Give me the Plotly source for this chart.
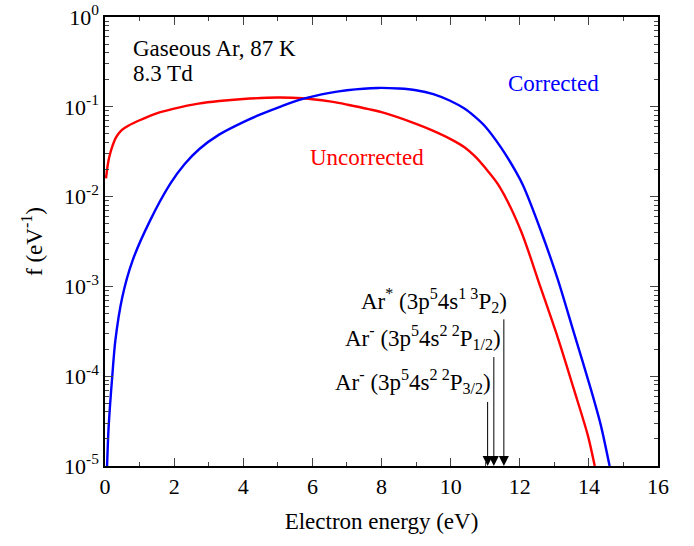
import plotly.graph_objects as go

# Uncorrected (red)
x_unc = [0.03, 0.06, 0.1, 0.15, 0.2, 0.25, 0.3, 0.4, 0.5, 0.6, 0.7, 0.8, 1.0, 1.3, 1.6, 2.0, 2.7, 3.3, 4.0, 5.0, 5.7, 6.5, 7.0, 8.0, 9.0, 9.45, 10.0, 10.4, 10.7, 11.0, 11.4, 12.03, 12.6, 13.1, 13.57, 13.97, 14.17]
y_unc = [0.0160, 0.0200, 0.0251, 0.0302, 0.0351, 0.0398, 0.0442, 0.0507, 0.0556, 0.0592, 0.0624, 0.0652, 0.0708, 0.0794, 0.0871, 0.0955, 0.1084, 0.1161, 0.1222, 0.1268, 0.1245, 0.1148, 0.1059, 0.0871, 0.0646, 0.0550, 0.0437, 0.0355, 0.0282, 0.0209, 0.0132, 0.0042, 9.8e-4, 2.69e-4, 7.08e-5, 2.19e-5, 1.0e-5]
# Corrected (blue)
x_cor = [0.06, 0.1, 0.15, 0.2, 0.3, 0.5, 0.8, 1.3, 1.89, 2.3, 2.73, 3.3, 4.0, 4.5, 5.1, 5.7, 6.5, 7.0, 7.9, 8.5, 9.0, 9.5, 9.97, 10.4, 10.7, 11.0, 11.45, 11.9, 12.1, 12.6, 13.1, 13.57, 14.07, 14.35, 14.6]
y_cor = [1.0e-5, 2.51e-5, 5.0e-5, 8.9e-5, 2.51e-4, 7.59e-4, 1.95e-3, 5.37e-3, 0.01393, 0.0229, 0.0339, 0.049, 0.0676, 0.0822, 0.1012, 0.1216, 0.1429, 0.1531, 0.1622, 0.1596, 0.1531, 0.1387, 0.1175, 0.0955, 0.0776, 0.0603, 0.0355, 0.0186, 0.0132, 0.00427, 0.0012, 3.02e-4, 6.9e-5, 2.8e-5, 1.0e-5]

y_tickvals = [1e-5, 1e-4, 1e-3, 1e-2, 1e-1, 1]
y_ticktext = ["10<sup>-5</sup>", "10<sup>-4</sup>", "10<sup>-3</sup>", "10<sup>-2</sup>", "10<sup>-1</sup>", "10<sup>0</sup>"]

arrow_x = [11.07, 11.25, 11.54]
arrow_start_log = [-4.27, -3.77, -3.35]
labels = ["Ar<sup>-</sup> (3p<sup>5</sup>4s<sup>2 2</sup>P<sub>3/2</sub>)",
          "Ar<sup>-</sup> (3p<sup>5</sup>4s<sup>2 2</sup>P<sub>1/2</sub>)",
          "Ar<sup>*</sup> (3p<sup>5</sup>4s<sup>1 3</sup>P<sub>2</sub>)"]
label_x = [11.22, 11.51, 11.68]
label_y = [-4.06, -3.57, -3.16]

FONT = "Liberation Serif, Times New Roman, serif"
FS = 23

fig = go.Figure()
fig.add_trace(go.Scatter(x=x_unc, y=y_unc, mode="lines", line=dict(color="#ff0000", width=2.4, shape="spline", smoothing=0.8), showlegend=False))
fig.add_trace(go.Scatter(x=x_cor, y=y_cor, mode="lines", line=dict(color="#0000ff", width=2.4, shape="spline", smoothing=0.8), showlegend=False))

for ax_, ys, lab, lx, ly in zip(arrow_x, arrow_start_log, labels, label_x, label_y):
    fig.add_annotation(x=ax_, y=-5, ax=ax_, ay=ys, xref="x", yref="y", axref="x", ayref="y",
                       showarrow=True, arrowhead=2, arrowsize=2.0, arrowwidth=1, arrowcolor="black", text="")
    fig.add_annotation(x=lx, y=ly, xref="x", yref="y", text=lab, showarrow=False,
                       xanchor="right", yanchor="middle", font=dict(family=FONT, size=FS, color="black"))

fig.add_annotation(x=0.75, y=-0.346, xref="x", yref="y", xanchor="left", yanchor="middle",
                   text="Gaseous Ar, 87 K", showarrow=False, font=dict(family=FONT, size=FS, color="black"))
fig.add_annotation(x=0.75, y=-0.625, xref="x", yref="y", xanchor="left", yanchor="middle",
                   text="8.3 Td", showarrow=False, font=dict(family=FONT, size=FS, color="black"))
fig.add_annotation(x=11.6, y=-0.74, xref="x", yref="y", xanchor="left", yanchor="middle",
                   text="Corrected", showarrow=False, font=dict(family=FONT, size=FS, color="#0000ff"))
fig.add_annotation(x=5.88, y=-1.56, xref="x", yref="y", xanchor="left", yanchor="middle",
                   text="Uncorrected", showarrow=False, font=dict(family=FONT, size=FS, color="#ff0000"))

fig.update_layout(
    width=694, height=546,
    margin=dict(l=105, r=36, t=17, b=80),
    plot_bgcolor="white", paper_bgcolor="white",
    font=dict(family=FONT, size=FS, color="black"),
)
fig.update_xaxes(range=[0, 16], dtick=2, tick0=0, ticks="inside", ticklen=8, tickwidth=1,
                 showline=True, linecolor="black", linewidth=1.5, mirror="allticks", showgrid=False, zeroline=False,
                 minor=dict(ticks="inside", ticklen=4, dtick=1, showgrid=False),
                 tickfont=dict(size=22), automargin=False, ticklabeloverflow="allow",
                 title=dict(text="Electron energy (eV)", font=dict(size=FS)))
fig.update_yaxes(type="log", range=[-5, 0], tickvals=y_tickvals, ticktext=y_ticktext, ticks="inside", ticklen=8, tickwidth=1,
                 showline=True, linecolor="black", linewidth=1.5, mirror="allticks", showgrid=False, zeroline=False,
                 minor=dict(ticks="inside", ticklen=4, dtick="D1", showgrid=False),
                 tickfont=dict(size=22), automargin=False, ticklabeloverflow="allow",
                 title=dict(text="f (eV<sup>-1</sup>)", font=dict(size=FS)))

fig.write_html("out.html", config={"displayModeBar": False},
               post_script="document.body.style.margin='0';")
